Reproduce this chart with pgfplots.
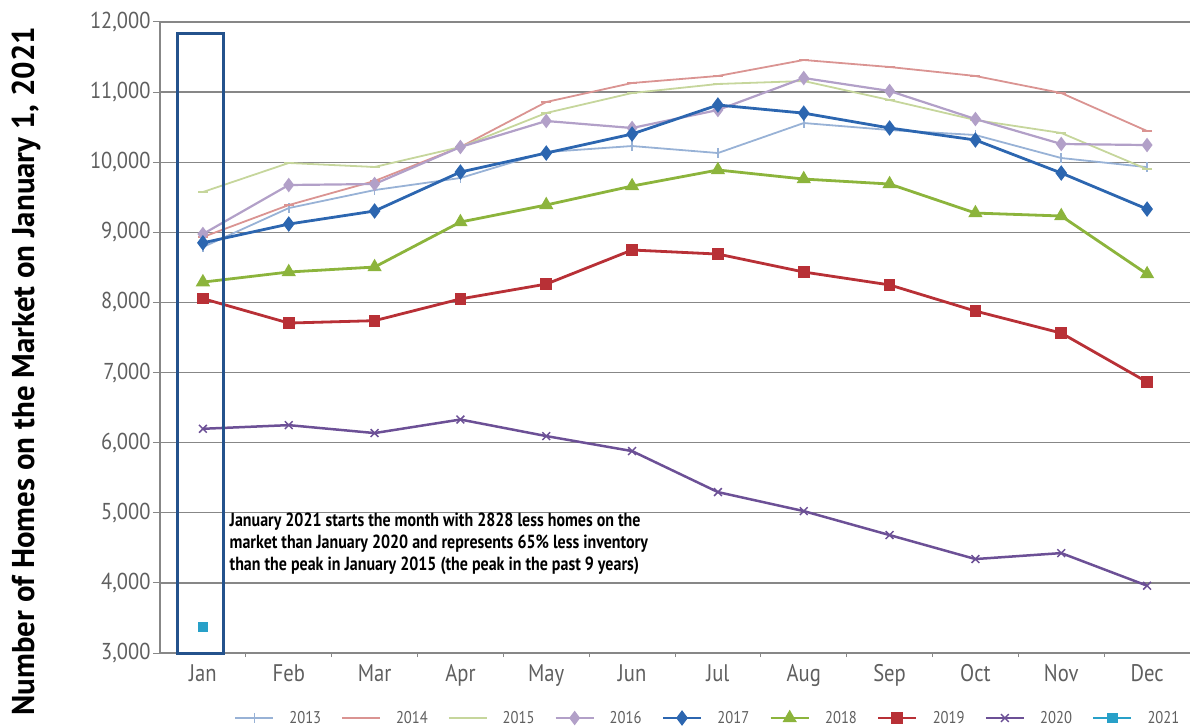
\documentclass[border=0pt]{standalone}
\usepackage{fontspec}
\usepackage{pgfplots}
\pgfplotsset{compat=1.18}
\setmainfont{PT Sans}
\newfontfamily\condfont[FakeStretch=0.86]{PT Sans}
\newfontfamily\tickfont[FakeStretch=0.89]{PT Sans}
\newfontfamily\condbold[FakeStretch=0.98]{PT Sans Bold}
\newfontfamily\notefont[FakeStretch=0.84]{PT Sans Bold}

\definecolor{c2013}{RGB}{152,178,214}
\definecolor{c2014}{RGB}{218,148,146}
\definecolor{c2015}{RGB}{198,214,156}
\definecolor{c2016}{RGB}{178,160,200}
\definecolor{c2017}{RGB}{44,102,176}
\definecolor{c2018}{RGB}{140,180,60}
\definecolor{c2019}{RGB}{184,48,54}
\definecolor{c2020}{RGB}{108,80,150}
\definecolor{c2021}{RGB}{40,160,200}
\definecolor{boxblue}{RGB}{36,82,140}
\definecolor{gridgray}{RGB}{135,135,135}
\definecolor{ticktext}{RGB}{95,95,95}

\begin{document}
\begin{tikzpicture}
\useasboundingbox (0pt,0pt) rectangle (1190pt,726pt);
\begin{axis}[
  at={(160pt,73pt)}, anchor=south west,
  scale only axis, width=1030pt, height=631pt,
  xmin=-0.5, xmax=11.5, ymin=3000, ymax=12000,
  axis lines=left, axis line style={gridgray, line width=1.2pt, -},
  ytick={3000,4000,...,12000},
  scaled y ticks=false,
  ymajorgrids, grid style={gridgray, line width=1.3pt},
  xtick={0,...,11},
  xticklabels={Jan,Feb,Mar,Apr,May,Jun,Jul,Aug,Sep,Oct,Nov,Dec},
  minor xtick={0.5,1.5,...,10.5},
  major x tick style={draw=none},
  minor x tick style={gridgray, line width=0.8pt},
  minor tick length=4pt,
  major tick length=7pt,
  tick align=outside,
  tick style={gridgray, line width=1pt},
  y tick label style={font=\tickfont\fontsize{23}{26}\selectfont, text=ticktext, xshift=1pt},
  x tick label style={font=\condfont\fontsize{24}{26}\selectfont, text=ticktext, yshift=-1pt},
  /pgf/number format/1000 sep={,},
  /pgf/number format/assume math mode=true,
  ylabel={\condbold\fontsize{31.5}{32}\selectfont Number of Homes on the Market on January 1, 2021},
  ylabel style={at={(axis description cs:-0.130,0.447)}, anchor=center},
  legend columns=9,
  legend style={at={(axis description cs:0.532,-0.103)}, anchor=center, draw=none,
    fill=none, font=\condfont\fontsize{17}{18}\selectfont\color{ticktext},
    /tikz/every odd column/.append style={column sep=13pt},
    /tikz/every even column/.append style={column sep=18pt}},
  legend image code/.code={\draw[mark repeat=2,mark phase=2,#1] plot coordinates {(0pt,0pt)(19pt,0pt)(38pt,0pt)};},
  clip=false,
]
% 2013
\addplot[c2013, line width=1.8pt, mark=|, mark size=5pt] coordinates {
 (0,8790)(1,9346)(2,9603)(3,9775)(4,10145)(5,10231)(6,10131)(7,10559)(8,10459)(9,10388)(10,10060)(11,9930)};
\addlegendentry{2013}
% 2014
\addplot[c2014, line width=1.8pt, mark=-, mark size=5pt] coordinates {
 (0,8933)(1,9389)(2,9732)(3,10217)(4,10859)(5,11130)(6,11230)(7,11458)(8,11358)(9,11230)(10,10987)(11,10445)};
\addlegendentry{2014}
% 2015
\addplot[c2015, line width=1.8pt, mark=-, mark size=5pt] coordinates {
 (0,9575)(1,9989)(2,9932)(3,10217)(4,10702)(5,10987)(6,11116)(7,11158)(8,10887)(9,10602)(10,10417)(11,9900)};
\addlegendentry{2015}
% 2016
\addplot[c2016, line width=2.2pt, mark=diamond*, mark size=5.5pt] coordinates {
 (0,8976)(1,9675)(2,9689)(3,10217)(4,10588)(5,10488)(6,10745)(7,11201)(8,11016)(9,10616)(10,10260)(11,10245)};
\addlegendentry{2016}
% 2017
\addplot[c2017, line width=2.8pt, mark=diamond*, mark size=5.5pt] coordinates {
 (0,8850)(1,9118)(2,9304)(3,9860)(4,10131)(5,10402)(6,10816)(7,10700)(8,10488)(9,10317)(10,9846)(11,9332)};
\addlegendentry{2017}
% 2018
\addplot[c2018, line width=2.8pt, mark=triangle*, mark size=5.5pt] coordinates {
 (0,8290)(1,8434)(2,8505)(3,9147)(4,9390)(5,9660)(6,9889)(7,9760)(8,9689)(9,9275)(10,9233)(11,8405)};
\addlegendentry{2018}
% 2019
\addplot[c2019, line width=2.8pt, mark=square*, mark size=4.5pt] coordinates {
 (0,8055)(1,7706)(2,7740)(3,8050)(4,8262)(5,8748)(6,8690)(7,8434)(8,8250)(9,7877)(10,7563)(11,6865)};
\addlegendentry{2019}
% 2020
\addplot[c2020, line width=2.5pt, mark=x, mark size=5.5pt, mark options={line width=1.5pt}] coordinates {
 (0,6198)(1,6250)(2,6137)(3,6330)(4,6094)(5,5880)(6,5295)(7,5024)(8,4682)(9,4340)(10,4425)(11,3960)};
\addlegendentry{2020}
% 2021
\addplot[c2021, line width=2.5pt, mark=square*, mark size=4pt] coordinates {(0,3370)};
\addlegendentry{2021}

% highlight around January
\draw[boxblue, line width=3pt] (axis cs:-0.30,11843) rectangle (axis cs:0.245,2990);
\node[anchor=west, align=left, font=\notefont\fontsize{19}{22}\selectfont, inner sep=0pt]
  at (axis cs:0.31,4553) {January 2021 starts the month with 2828 less homes on the\\
  market than January 2020 and represents 65\% less inventory\\
  than the peak in January 2015 (the peak in the past 9 years)};
\end{axis}
\end{tikzpicture}
\end{document}
